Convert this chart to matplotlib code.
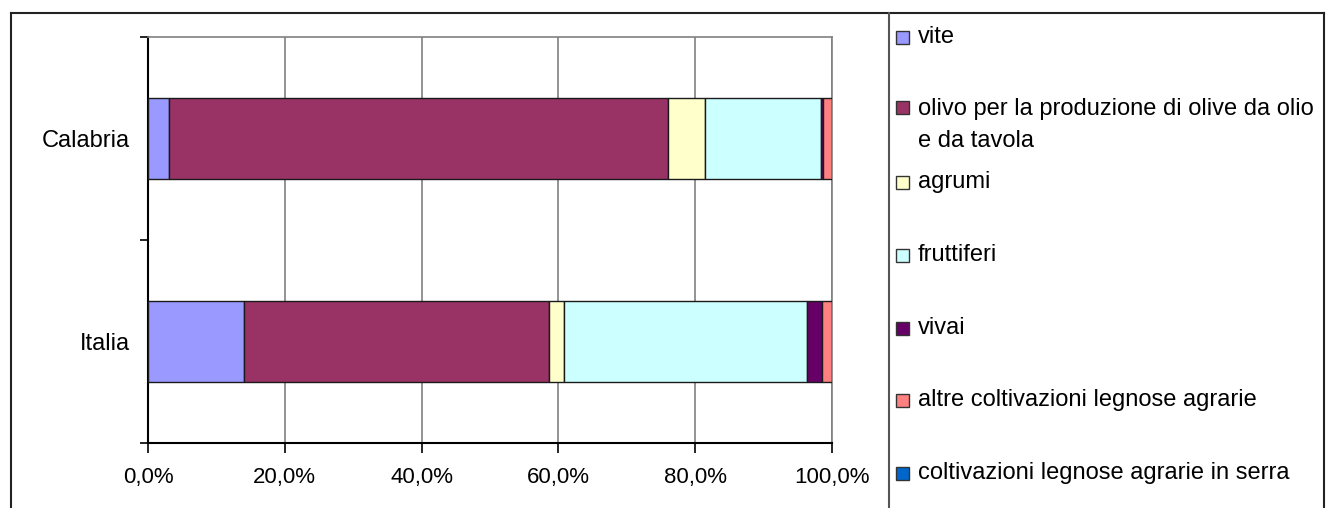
import matplotlib.pyplot as plt
from matplotlib.patches import Rectangle
from matplotlib.lines import Line2D
from matplotlib.ticker import FixedLocator

plt.rcParams['font.family'] = ['Liberation Sans', 'DejaVu Sans']

# categories (bottom to top)
categories = ['Italia', 'Calabria']

# shares in percent for each crop type
vite = [14.0, 3.0]
olivo = [44.6, 73.0]
agrumi = [2.2, 5.5]
fruttiferi = [35.6, 16.9]
vivai = [2.1, 0.3]
altre = [1.5, 1.3]
serra = [0.0, 0.0]

series_labels = ['vite',
                 'olivo per la produzione di olive da olio\ne da tavola',
                 'agrumi', 'fruttiferi', 'vivai',
                 'altre coltivazioni legnose agrarie',
                 'coltivazioni legnose agrarie in serra']
series_values = [vite, olivo, agrumi, fruttiferi, vivai, altre, serra]
colors = ['#9999FF', '#993366', '#FFFFCC', '#CCFFFF', '#660066', '#FF8080', '#0066CC']

x_ticks = [0, 20, 40, 60, 80, 100]
x_ticklabels = ['0,0%', '20,0%', '40,0%', '60,0%', '80,0%', '100,0%']

W, H = 1327, 508
fig = plt.figure(figsize=(W / 100, H / 100), dpi=100)

# plot area in pixel coords: x 148..832, y 37..443
ax = fig.add_axes([148 / W, 1 - 443 / H, (832 - 148) / W, (443 - 37) / H])

ypos = list(range(len(categories)))
left = [0.0] * len(categories)
for vals, col in zip(series_values, colors):
    ax.barh(ypos, vals, left=left, height=0.4, color=col,
            edgecolor='#1a1a1a', linewidth=1.0, zorder=3)
    left = [a + b for a, b in zip(left, vals)]

ax.set_xlim(0, 100)
ax.set_ylim(-0.5, 1.5)
ax.set_xticks(x_ticks)
ax.set_xticklabels(x_ticklabels, fontsize=16)
ax.set_yticks(ypos)
ax.set_yticklabels(categories, fontsize=17)
ax.yaxis.set_minor_locator(FixedLocator([-0.5, 0.5, 1.5]))
ax.tick_params(axis='y', which='major', length=0, pad=13)
ax.tick_params(axis='y', which='minor', length=6, width=1.2, color='black')
ax.tick_params(axis='x', length=7, width=1.2, pad=10)
ax.grid(axis='x', color='#808080', linewidth=1.2, zorder=0)

for side in ['left', 'bottom']:
    ax.spines[side].set_color('black')
    ax.spines[side].set_linewidth(1.5)
for side in ['top', 'right']:
    ax.spines[side].set_color('#808080')
    ax.spines[side].set_linewidth(1.2)

# outer chart border and legend box
def fx(px):
    return px / W

def fy(py):
    return 1 - py / H

border = dict(color='#222222', linewidth=1.5, transform=fig.transFigure)
fig.add_artist(Line2D([fx(11), fx(1324)], [fy(13), fy(13)], **border))
fig.add_artist(Line2D([fx(11), fx(11)], [fy(13), fy(510)], **border))
fig.add_artist(Line2D([fx(1324), fx(1324)], [fy(13), fy(510)], **border))
fig.add_artist(Line2D([fx(889), fx(889)], [fy(13), fy(510)],
                      color='#555555', linewidth=1.5, transform=fig.transFigure))

# legend entries
legend_y = [37, 107, 182, 255, 328, 400, 473]
for lab, col, y in zip(series_labels, colors, legend_y):
    fig.add_artist(Rectangle((fx(896), fy(y + 6.5)), 13 / W, 13 / H,
                             facecolor=col, edgecolor='#333333', linewidth=1.0,
                             transform=fig.transFigure))
    if '\n' in lab:
        fig.text(fx(918), fy(y - 9), lab, fontsize=17, va='top', ha='left',
                 linespacing=1.58)
    else:
        fig.text(fx(918), fy(y), lab, fontsize=17, va='center', ha='left')

fig.savefig('out.png', dpi=100)
